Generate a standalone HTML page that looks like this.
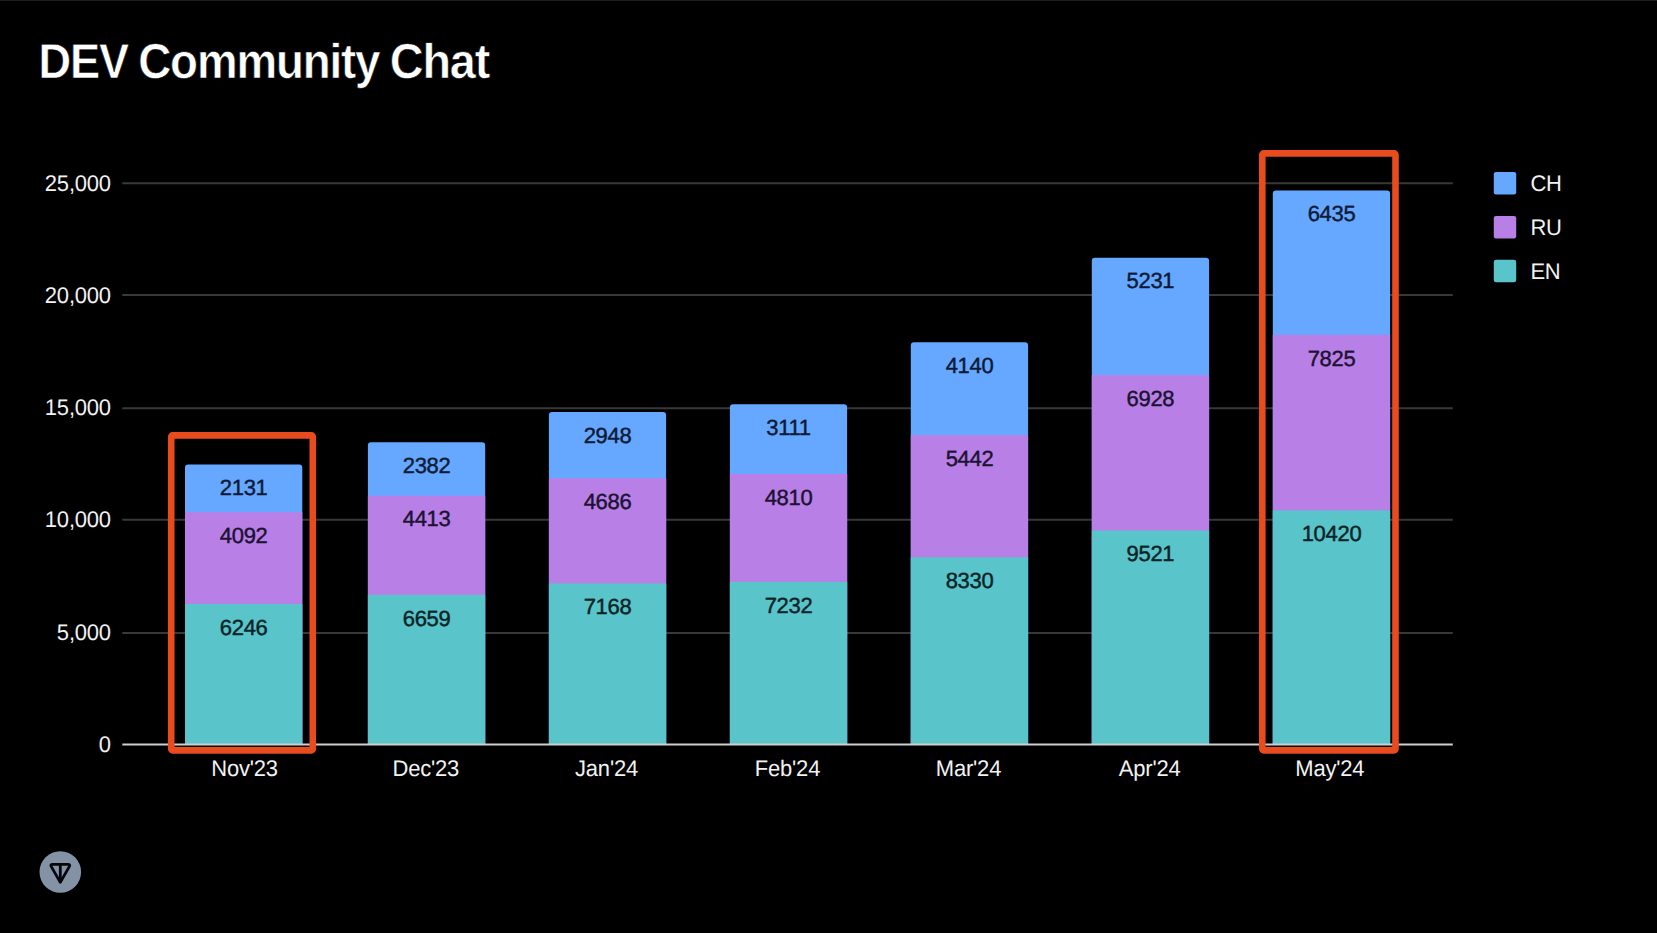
<!DOCTYPE html>
<html lang="en">
<head>
<meta charset="utf-8">
<title>DEV Community Chat</title>
<style>
html,body{margin:0;padding:0;background:#000;}
body{width:1657px;height:933px;overflow:hidden;position:relative;font-family:"Liberation Sans",Arial,Helvetica,sans-serif;}
.topline{position:absolute;left:0;top:0;width:1657px;height:1px;background:#1d1d1d;}
svg{position:absolute;left:0;top:0;}
svg text{font-family:"Liberation Sans",Arial,Helvetica,sans-serif;text-rendering:geometricPrecision;}
.ax{font-size:22.6px;fill:#f2f2f2;letter-spacing:-0.2px;}
.dl{font-size:22px;text-anchor:middle;letter-spacing:-0.3px;stroke-width:.45px;stroke-linejoin:round;}
.dl .b{fill:#0c1a36;stroke:#0c1a36;}
.dl .p{fill:#1c1232;stroke:#1c1232;}
.dl .t{fill:#0a2326;stroke:#0a2326;}
.xl{text-anchor:middle;}
.ttl{font-size:49.1px;font-weight:bold;fill:#fff;stroke:#000;stroke-width:.6px;letter-spacing:-1.2px;}
.yl{text-anchor:end;}
</style>
</head>
<body>
<div class="topline"></div>
<svg width="1657" height="933" viewBox="0 0 1657 933">

<g class="ttl">
<text transform="translate(38.5 78.1) scale(0.9195 1)">DEV</text>
<text transform="translate(138.23 78.1) scale(0.9304 1)">Community</text>
<text transform="translate(389.8 78.1) scale(0.9522 1)">Chat</text>
</g>
<g stroke="#383838" stroke-width="2">
<line x1="122.3" y1="633.0" x2="1452.8" y2="633.0"/>
<line x1="122.3" y1="519.8" x2="1452.8" y2="519.8"/>
<line x1="122.3" y1="408.2" x2="1452.8" y2="408.2"/>
<line x1="122.3" y1="295.0" x2="1452.8" y2="295.0"/>
<line x1="122.3" y1="183.2" x2="1452.8" y2="183.2"/>
</g>
<g class="ax yl">
<text class="ax yl" transform="translate(110.9 751.7) scale(0.973 1)">0</text>
<text class="ax yl" transform="translate(110.9 639.5) scale(0.973 1)">5,000</text>
<text class="ax yl" transform="translate(110.9 527.3) scale(0.973 1)">10,000</text>
<text class="ax yl" transform="translate(110.9 415.1) scale(0.973 1)">15,000</text>
<text class="ax yl" transform="translate(110.9 302.9) scale(0.973 1)">20,000</text>
<text class="ax yl" transform="translate(110.9 190.7) scale(0.973 1)">25,000</text>
</g>
<path d="M185.0 744.2V467.6Q185.0 464.4 188.2 464.4H299.1Q302.3 464.4 302.3 467.6V744.2Z" fill="#66a8ff"/>
<rect x="185.0" y="512.2" width="117.3" height="232.0" fill="#b880e6"/>
<rect x="185.0" y="604.0" width="117.3" height="140.2" fill="#59c4c9"/>
<path d="M367.9 744.2V445.5Q367.9 442.3 371.1 442.3H482.0Q485.2 442.3 485.2 445.5V744.2Z" fill="#66a8ff"/>
<rect x="367.9" y="495.7" width="117.3" height="248.5" fill="#b880e6"/>
<rect x="367.9" y="594.8" width="117.3" height="149.4" fill="#59c4c9"/>
<path d="M548.9 744.2V415.2Q548.9 412.0 552.1 412.0H662.9Q666.1 412.0 666.1 415.2V744.2Z" fill="#66a8ff"/>
<rect x="548.9" y="478.2" width="117.3" height="266.0" fill="#b880e6"/>
<rect x="548.9" y="583.4" width="117.3" height="160.8" fill="#59c4c9"/>
<path d="M729.9 744.2V407.4Q729.9 404.2 733.1 404.2H843.9Q847.1 404.2 847.1 407.4V744.2Z" fill="#66a8ff"/>
<rect x="729.9" y="474.0" width="117.3" height="270.2" fill="#b880e6"/>
<rect x="729.9" y="581.9" width="117.3" height="162.3" fill="#59c4c9"/>
<path d="M910.8 744.2V345.5Q910.8 342.3 914.0 342.3H1024.9Q1028.1 342.3 1028.1 345.5V744.2Z" fill="#66a8ff"/>
<rect x="910.8" y="435.2" width="117.3" height="309.0" fill="#b880e6"/>
<rect x="910.8" y="557.3" width="117.3" height="186.9" fill="#59c4c9"/>
<path d="M1091.8 744.2V260.9Q1091.8 257.7 1095.0 257.7H1205.9Q1209.1 257.7 1209.1 260.9V744.2Z" fill="#66a8ff"/>
<rect x="1091.8" y="375.1" width="117.3" height="369.1" fill="#b880e6"/>
<rect x="1091.8" y="530.5" width="117.3" height="213.7" fill="#59c4c9"/>
<path d="M1272.8 744.2V193.6Q1272.8 190.4 1276.0 190.4H1386.9Q1390.1 190.4 1390.1 193.6V744.2Z" fill="#66a8ff"/>
<rect x="1272.8" y="334.8" width="117.3" height="409.4" fill="#b880e6"/>
<rect x="1272.8" y="510.4" width="117.3" height="233.8" fill="#59c4c9"/>
<line x1="122.3" y1="744.5" x2="1452.8" y2="744.5" stroke="#cfcfcf" stroke-width="2"/>
<g class="dl">
<text class="t" x="243.7" y="634.7">6246</text>
<text class="p" x="243.7" y="542.9">4092</text>
<text class="b" x="243.7" y="495.1">2131</text>
<text class="t" x="426.6" y="625.5">6659</text>
<text class="p" x="426.6" y="526.4">4413</text>
<text class="b" x="426.6" y="473.0">2382</text>
<text class="t" x="607.5" y="614.1">7168</text>
<text class="p" x="607.5" y="508.9">4686</text>
<text class="b" x="607.5" y="442.7">2948</text>
<text class="t" x="788.5" y="612.6">7232</text>
<text class="p" x="788.5" y="504.7">4810</text>
<text class="b" x="788.5" y="434.9">3111</text>
<text class="t" x="969.5" y="588.0">8330</text>
<text class="p" x="969.5" y="465.9">5442</text>
<text class="b" x="969.5" y="373.0">4140</text>
<text class="t" x="1150.4" y="561.2">9521</text>
<text class="p" x="1150.4" y="405.8">6928</text>
<text class="b" x="1150.4" y="288.4">5231</text>
<text class="t" x="1331.5" y="541.1">10420</text>
<text class="p" x="1331.5" y="365.5">7825</text>
<text class="b" x="1331.5" y="221.1">6435</text>
</g>
<g class="ax xl">
<text class="ax xl" transform="translate(244.5 775.5) scale(0.973 1)">Nov'23</text>
<text class="ax xl" transform="translate(425.8 775.5) scale(0.973 1)">Dec'23</text>
<text class="ax xl" transform="translate(606.5 775.5) scale(0.973 1)">Jan'24</text>
<text class="ax xl" transform="translate(787.5 775.5) scale(0.973 1)">Feb'24</text>
<text class="ax xl" transform="translate(968.5 775.5) scale(0.973 1)">Mar'24</text>
<text class="ax xl" transform="translate(1149.7 775.5) scale(0.973 1)">Apr'24</text>
<text class="ax xl" transform="translate(1329.8 775.5) scale(0.973 1)">May'24</text>
</g>
<rect x="171.2" y="435.4" width="141.6" height="315.0" rx="1.5" fill="none" stroke="#e84c1e" stroke-width="6.6" stroke-linejoin="round"/>
<rect x="1262.3" y="153.4" width="133.2" height="597.0" rx="1.5" fill="none" stroke="#e84c1e" stroke-width="6.6" stroke-linejoin="round"/>
<rect x="1493.8" y="172.1" width="22.4" height="22.4" rx="2.2" fill="#66a8ff"/>
<text class="ax" transform="translate(1530.4 190.9) scale(0.973 1)">CH</text>
<rect x="1493.8" y="216.0" width="22.4" height="22.4" rx="2.2" fill="#b880e6"/>
<text class="ax" transform="translate(1530.4 234.8) scale(0.973 1)">RU</text>
<rect x="1493.8" y="259.8" width="22.4" height="22.4" rx="2.2" fill="#59c4c9"/>
<text class="ax" transform="translate(1530.4 278.6) scale(0.973 1)">EN</text>
<circle cx="60.3" cy="872" r="20.8" fill="#8492a6"/>
<g fill="none" stroke="#05070c" stroke-width="2.8" stroke-linejoin="round" stroke-linecap="round">
<path d="M52.6 864.3H68Q70.6 864.3 69.3 866.6L60.3 882.4L51.3 866.6Q50 864.3 52.6 864.3Z"/>
<path d="M60.3 864.6V881.6"/>
</g>
</svg>
</body>
</html>
